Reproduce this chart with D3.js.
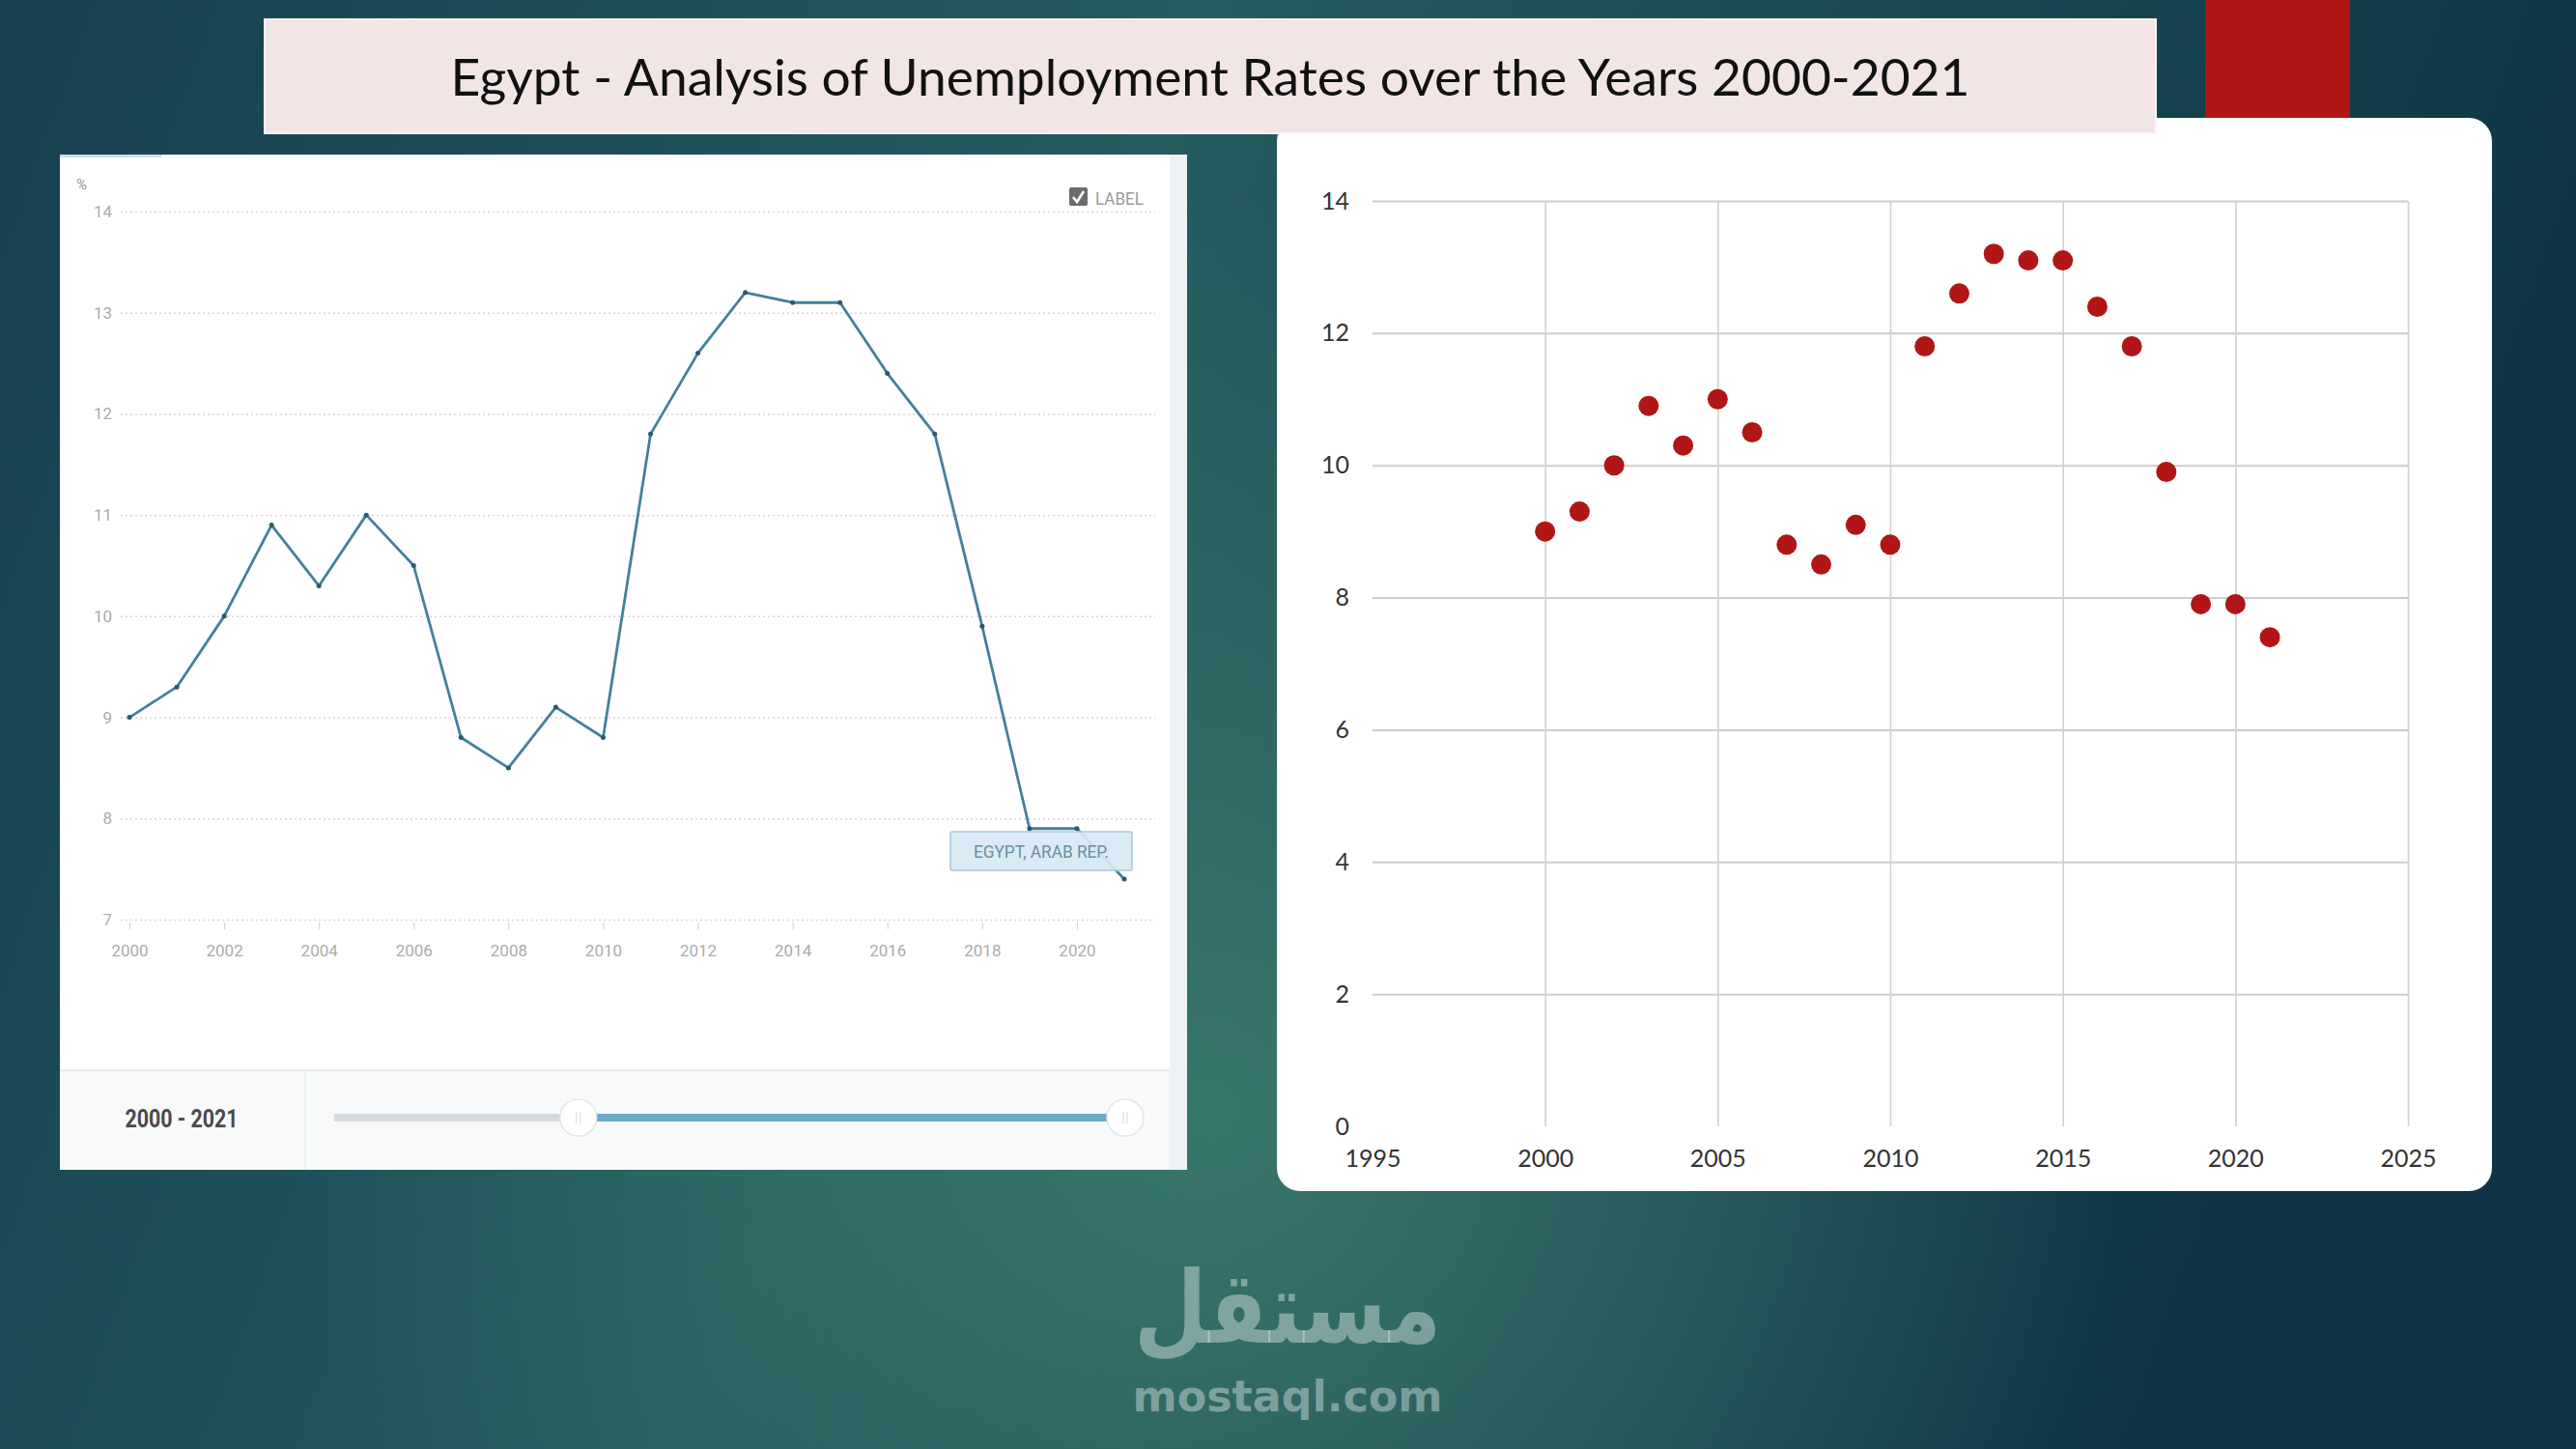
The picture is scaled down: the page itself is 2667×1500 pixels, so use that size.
<!DOCTYPE html>
<html>
<head>
<meta charset="utf-8">
<script src="https://cdn.jsdelivr.net/npm/d3@7"></script>
<style>
    body { margin: 0; overflow: hidden; background: #1b4a58; }
    svg { display: block; }
</style>
</head>
<body>
<div id="chart-area"></div>
<script>

// DATA ------------------------------------------------------------
var years = [2000, 2001, 2002, 2003, 2004, 2005, 2006, 2007, 2008, 2009, 2010,
             2011, 2012, 2013, 2014, 2015, 2016, 2017, 2018, 2019, 2020, 2021];
var rates = [9.0, 9.3, 10.0, 10.9, 10.3, 11.0, 10.5, 8.8, 8.5, 9.1, 8.8,
             11.8, 12.6, 13.2, 13.1, 13.1, 12.4, 11.8, 9.9, 7.9, 7.9, 7.4];

var leftYTicks = [7, 8, 9, 10, 11, 12, 13, 14];
var leftXTicks = [2000, 2002, 2004, 2006, 2008, 2010, 2012, 2014, 2016, 2018, 2020];
var rightYTicks = [0, 2, 4, 6, 8, 10, 12, 14];
var rightXTicks = [1995, 2000, 2005, 2010, 2015, 2020, 2025];

var titleText = "Egypt - Analysis of Unemployment Rates over the Years 2000-2021";
var seriesName = "EGYPT, ARAB REP.";
var rangeText = "2000 - 2021";
var sliderRange = [1991, 2021];

var width = 2667;
var height = 1500;

var svg = d3.select("#chart-area").append("svg")
    .attr("width", width)
    .attr("height", height);



// BACKGROUND ------------------------------------------------------
var defs = svg.append("defs");
var lin = defs.append("linearGradient")
    .attr("id", "bgLinear")
    .attr("x1", "0").attr("y1", "0").attr("x2", "1").attr("y2", "0.2");
lin.append("stop").attr("offset", "0").attr("stop-color", "#173f50");
lin.append("stop").attr("offset", "0.45").attr("stop-color", "#245c5f");
lin.append("stop").attr("offset", "1").attr("stop-color", "#0f3445");

var rad = defs.append("radialGradient")
    .attr("id", "bgGlow")
    .attr("gradientUnits", "userSpaceOnUse")
    .attr("cx", 1250).attr("cy", 1150).attr("r", 950);
rad.append("stop").attr("offset", "0").attr("stop-color", "#3a786d").attr("stop-opacity", 0.95);
rad.append("stop").attr("offset", "1").attr("stop-color", "#3a786d").attr("stop-opacity", 0);

svg.append("rect").attr("width", width).attr("height", height).attr("fill", "url(#bgLinear)");
svg.append("rect").attr("width", width).attr("height", height).attr("fill", "url(#bgGlow)");

// red accent block
svg.append("rect")
    .attr("x", 2283).attr("y", 0)
    .attr("width", 150).attr("height", 123)
    .attr("fill", "#ad1714");



// RIGHT CARD (scatter) -------------------------------------------
svg.append("rect")
    .attr("x", 1322).attr("y", 122)
    .attr("width", 1258).attr("height", 1111)
    .attr("rx", 24)
    .attr("fill", "#ffffff");

var xRight = d3.scaleLinear().domain([1995, 2025]).range([1421, 2493]);
var yRight = d3.scaleLinear().domain([0, 14]).range([1166, 208]);

var rightGroup = svg.append("g").attr("name", "Scatter");

var yRightAxis = rightGroup.append("g")
    .attr("transform", "translate(" + xRight(1995) + ",0)")
    .call(d3.axisLeft(yRight)
        .tickValues(rightYTicks)
        .tickSizeInner(-(xRight(2025) - xRight(1995)))
        .tickSizeOuter(0)
        .tickPadding(24));
yRightAxis.select(".domain").remove();
yRightAxis.selectAll(".tick line")
    .attr("stroke", "#cccccc")
    .attr("stroke-width", 2)
    .filter(d => d === 0).remove();

var xRightAxis = rightGroup.append("g")
    .attr("transform", "translate(0," + yRight(0) + ")")
    .call(d3.axisBottom(xRight)
        .tickValues(rightXTicks)
        .tickFormat(d3.format("d"))
        .tickSizeInner(-(yRight(0) - yRight(14)))
        .tickSizeOuter(0)
        .tickPadding(24));
xRightAxis.select(".domain").remove();
xRightAxis.selectAll(".tick line")
    .attr("stroke", "#d0d0d0")
    .attr("stroke-width", 1.6)
    .filter(d => d === 1995).remove();

rightGroup.selectAll(".tick text")
    .attr("font-family", "Lato, 'Open Sans', sans-serif")
    .attr("font-size", "25px")
    .attr("fill", "#333333");

rightGroup.selectAll("circle.dot")
    .data(years)
    .enter().append("circle")
    .attr("class", "dot")
    .attr("cx", d => xRight(d))
    .attr("cy", (d, i) => yRight(rates[i]))
    .attr("r", 10.5)
    .attr("fill", "#b01616");



// TITLE -----------------------------------------------------------
svg.append("rect")
    .attr("x", 274).attr("y", 20)
    .attr("width", 1958).attr("height", 118)
    .attr("fill", "#f1e6e5")
    .attr("stroke", "#faf7f7")
    .attr("stroke-width", 2);
svg.append("text")
    .attr("x", 1253).attr("y", 99)
    .attr("text-anchor", "middle")
    .attr("font-family", "'Century Gothic', Lato, sans-serif")
    .attr("font-size", "52px")
    .attr("fill", "#111111")
    .attr("textLength", 1573)
    .attr("lengthAdjust", "spacingAndGlyphs")
    .text(titleText);



// LEFT PANEL (line) -----------------------------------------------
var panelLeft = 62, panelTop = 160, panelRight = 1229, panelBottom = 1211;

svg.append("rect")
    .attr("x", panelLeft).attr("y", panelTop)
    .attr("width", panelRight - panelLeft).attr("height", panelBottom - panelTop)
    .attr("fill", "#ffffff");
// right strip
svg.append("rect")
    .attr("x", 1211).attr("y", panelTop)
    .attr("width", panelRight - 1211).attr("height", panelBottom - panelTop)
    .attr("fill", "#eef2f5");
// bottom bar
svg.append("rect")
    .attr("x", panelLeft).attr("y", 1108)
    .attr("width", 1211 - panelLeft).attr("height", panelBottom - 1108)
    .attr("fill", "#f7f9fa");
svg.append("line")
    .attr("x1", panelLeft).attr("x2", 1211)
    .attr("y1", 1108).attr("y2", 1108)
    .attr("stroke", "#e8ecef").attr("stroke-width", 2);
svg.append("line")
    .attr("x1", 316).attr("x2", 316)
    .attr("y1", 1108).attr("y2", panelBottom)
    .attr("stroke", "#eceff1").attr("stroke-width", 2);
// small tab at the top
svg.append("rect")
    .attr("x", panelLeft).attr("y", panelTop)
    .attr("width", 105).attr("height", 3)
    .attr("fill", "#cfe0ea");

var xLeft = d3.scaleLinear().domain([2000, 2021]).range([134, 1164]);
var yLeft = d3.scaleLinear().domain([7, 14]).range([952, 219]);

var leftGroup = svg.append("g").attr("name", "Line chart");

var yLeftAxis = leftGroup.append("g")
    .attr("transform", "translate(125,0)")
    .call(d3.axisLeft(yLeft)
        .tickValues(leftYTicks)
        .tickFormat(d3.format("d"))
        .tickSizeInner(-1071)
        .tickSizeOuter(0)
        .tickPadding(9));
yLeftAxis.select(".domain").remove();
yLeftAxis.selectAll(".tick line")
    .attr("stroke", "#d6d6d6")
    .attr("stroke-width", 1.5)
    .attr("stroke-dasharray", "2,3");

var xLeftAxis = leftGroup.append("g")
    .attr("transform", "translate(0,955)")
    .call(d3.axisBottom(xLeft)
        .tickValues(leftXTicks)
        .tickFormat(d3.format("d"))
        .tickSizeInner(7)
        .tickSizeOuter(0)
        .tickPadding(16));
xLeftAxis.select(".domain").remove();
xLeftAxis.selectAll(".tick line").attr("stroke", "#cfcfcf");

leftGroup.selectAll(".tick text")
    .attr("font-family", "Roboto, sans-serif")
    .attr("font-size", "17px")
    .attr("fill", "#ababab");

leftGroup.append("text")
    .attr("x", 79).attr("y", 196)
    .attr("font-family", "Roboto, sans-serif")
    .attr("font-size", "15px")
    .attr("fill", "#9a9a9a")
    .text("%");

// LABEL checkbox
leftGroup.append("rect")
    .attr("x", 1107).attr("y", 194)
    .attr("width", 19).attr("height", 19).attr("rx", 2)
    .attr("fill", "#6b6b6b");
leftGroup.append("path")
    .attr("d", "M1111,204 L1115,209 L1122,198")
    .attr("fill", "none").attr("stroke", "#ffffff").attr("stroke-width", 2.5);
leftGroup.append("text")
    .attr("x", 1134).attr("y", 212)
    .attr("font-family", "Roboto, sans-serif")
    .attr("font-size", "19px")
    .attr("fill", "#9a9a9a")
    .attr("textLength", 50)
    .attr("lengthAdjust", "spacingAndGlyphs")
    .text("LABEL");

var line = d3.line()
    .x(d => xLeft(d))
    .y((d, i) => yLeft(rates[i]));

leftGroup.append("path")
    .datum(years)
    .attr("d", line)
    .attr("fill", "none")
    .attr("stroke", "#44809a")
    .attr("stroke-width", 2.8)
    .attr("stroke-linejoin", "round");

leftGroup.selectAll("circle.pt")
    .data(years)
    .enter().append("circle")
    .attr("class", "pt")
    .attr("cx", d => xLeft(d))
    .attr("cy", (d, i) => yLeft(rates[i]))
    .attr("r", 2.5)
    .attr("fill", "#2a5a6e");

// series label box
leftGroup.append("rect")
    .attr("x", 984).attr("y", 861)
    .attr("width", 188).attr("height", 40).attr("rx", 2)
    .attr("fill", "#d7e9f5")
    .attr("fill-opacity", 0.92)
    .attr("stroke", "#a9c9dc")
    .attr("stroke-width", 1.5);
leftGroup.append("text")
    .attr("x", 1078).attr("y", 888)
    .attr("text-anchor", "middle")
    .attr("font-family", "Roboto, sans-serif")
    .attr("font-size", "18px")
    .attr("fill", "#6b8da3")
    .attr("textLength", 140)
    .attr("lengthAdjust", "spacingAndGlyphs")
    .text(seriesName);

// range text and slider
leftGroup.append("text")
    .attr("x", 188).attr("y", 1167)
    .attr("text-anchor", "middle")
    .attr("font-family", "Roboto, sans-serif")
    .attr("font-weight", "bold")
    .attr("font-size", "26px")
    .attr("fill", "#4a4a4a")
    .attr("textLength", 117)
    .attr("lengthAdjust", "spacingAndGlyphs")
    .text(rangeText);

var xSlider = d3.scaleLinear().domain(sliderRange).range([356, 1165]);

leftGroup.append("line")
    .attr("x1", 346).attr("x2", 1147)
    .attr("y1", 1157).attr("y2", 1157)
    .attr("stroke", "#d7dadc").attr("stroke-width", 8);
leftGroup.append("line")
    .attr("x1", xSlider(2000)).attr("x2", 1147)
    .attr("y1", 1157).attr("y2", 1157)
    .attr("stroke", "#6aa9c6").attr("stroke-width", 8);

[2000, 2021].forEach(yr => {
    leftGroup.append("circle")
        .attr("cx", xSlider(yr)).attr("cy", 1157)
        .attr("r", 19)
        .attr("fill", "#ffffff")
        .attr("stroke", "#e4e7ea").attr("stroke-width", 1.5);
    [-2, 2].forEach(dx => {
        leftGroup.append("line")
            .attr("x1", xSlider(yr) + dx).attr("x2", xSlider(yr) + dx)
            .attr("y1", 1151).attr("y2", 1163)
            .attr("stroke", "#d5d8db").attr("stroke-width", 1);
    });
});



// WATERMARK -------------------------------------------------------
svg.append("text")
    .attr("x", 1333).attr("y", 1390)
    .attr("text-anchor", "middle")
    .attr("font-family", "'DejaVu Sans', sans-serif")
    .attr("font-weight", "bold")
    .attr("font-size", "104px")
    .attr("fill", "#ffffff")
    .attr("fill-opacity", 0.38)
    .attr("textLength", 318)
    .attr("lengthAdjust", "spacingAndGlyphs")
    .text("مستقل");
svg.append("text")
    .attr("x", 1333).attr("y", 1461)
    .attr("text-anchor", "middle")
    .attr("font-family", "'DejaVu Sans', sans-serif")
    .attr("font-weight", "bold")
    .attr("font-size", "44px")
    .attr("fill", "#ffffff")
    .attr("fill-opacity", 0.38)
    .attr("textLength", 321)
    .attr("lengthAdjust", "spacingAndGlyphs")
    .text("mostaql.com");

</script>
</body>
</html>
